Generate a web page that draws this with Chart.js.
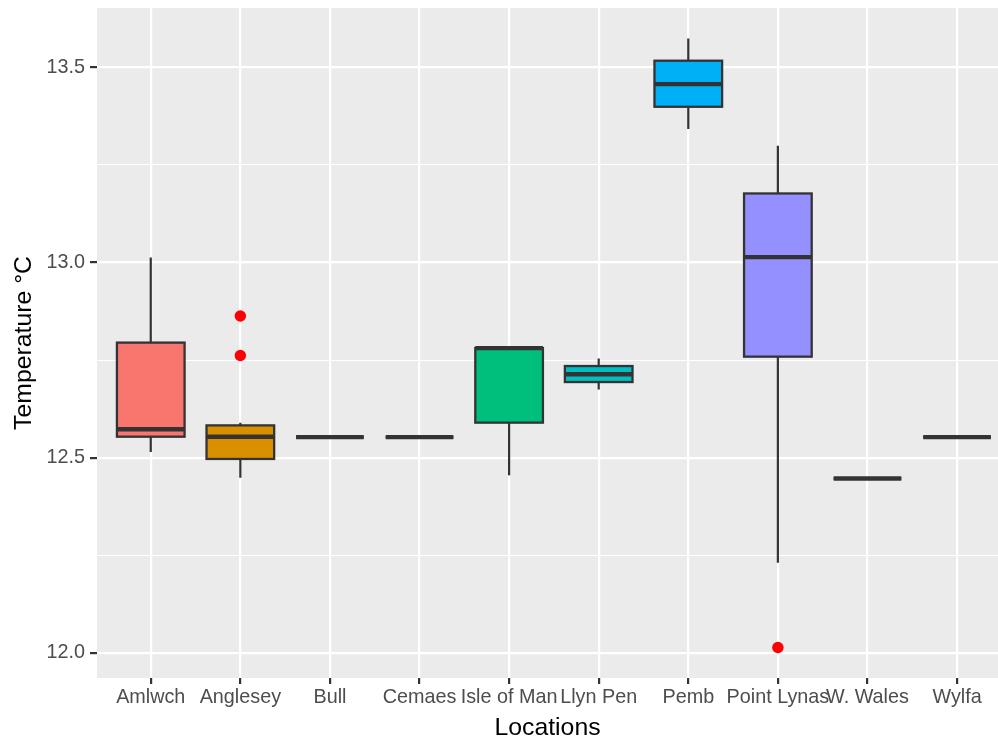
<!DOCTYPE html>
<html>
<head>
<meta charset="utf-8">
<script src="https://cdn.jsdelivr.net/npm/chart.js@4"></script>
<style>
  html, body { margin: 0; padding: 0; background: #ffffff; overflow: hidden; }
  #wrap { width: 998px; height: 742px; }
</style>
</head>
<body>
<div id="wrap"><canvas id="c" width="998" height="742"></canvas></div>
<script>
// Sea temperature summaries per location (°C)
const locations   = ['Amlwch', 'Anglesey', 'Bull', 'Cemaes', 'Isle of Man', 'Llyn Pen', 'Pemb', 'Point Lynas', 'W. Wales', 'Wylfa'];
const whiskerLow  = [12.515, 12.449, 12.553, 12.553, 12.455, 12.675, 13.342, 12.231, 12.447, 12.553];
const lowerQuart  = [12.554, 12.497, 12.553, 12.553, 12.590, 12.694, 13.399, 12.759, 12.447, 12.553];
const medians     = [12.573, 12.554, 12.553, 12.553, 12.781, 12.714, 13.457, 13.014, 12.447, 12.553];
const upperQuart  = [12.795, 12.583, 12.553, 12.553, 12.781, 12.735, 13.517, 13.177, 12.447, 12.553];
const whiskerHigh = [13.013, 12.590, 12.553, 12.553, 12.781, 12.754, 13.574, 13.299, 12.447, 12.553];

// Outlying readings: location index and value
const outlierLoc = [1, 1, 7];
const outlierVal = [12.863, 12.762, 12.014];

// Axis ticks
const yMajorTicks = [12.0, 12.5, 13.0, 13.5];
const yMinorTicks = [12.25, 12.75, 13.25];

const fills = ['#F8766D', '#D89000', '#A3A500', '#39B600', '#00BF7D', '#00BFC4', '#00B0F6', '#9590FF', '#E76BF3', '#FF62BC'];
const FONT = "'Liberation Sans', Arial, Helvetica, sans-serif";
const INK = '#333333';

const isMajor = v => yMajorTicks.some(t => Math.abs(t - v) < 1e-6);

// grey panel behind the grid
const panelBg = {
  id: 'panelBg',
  beforeDraw(chart) {
    const { ctx, chartArea: a } = chart;
    ctx.save();
    ctx.fillStyle = '#EBEBEB';
    ctx.fillRect(a.left, a.top, a.right - a.left, a.bottom - a.top);
    ctx.restore();
  }
};

// whiskers, box outlines and medians on top of the filled boxes
const boxParts = {
  id: 'boxParts',
  afterDatasetsDraw(chart) {
    const { ctx, scales: { x: xs, y: ys } } = chart;
    const meta = chart.getDatasetMeta(0);
    ctx.save();
    ctx.strokeStyle = INK;
    ctx.lineCap = 'butt';
    locations.forEach((_, i) => {
      const cx = xs.getPixelForValue(i);
      const half = meta.data[i].width / 2;
      const yQ1 = ys.getPixelForValue(lowerQuart[i]);
      const yQ3 = ys.getPixelForValue(upperQuart[i]);
      const yLo = ys.getPixelForValue(whiskerLow[i]);
      const yHi = ys.getPixelForValue(whiskerHigh[i]);
      const yMed = ys.getPixelForValue(medians[i]);
      // whiskers
      ctx.lineWidth = 2.2;
      ctx.beginPath();
      ctx.moveTo(cx, yQ3); ctx.lineTo(cx, yHi);
      ctx.moveTo(cx, yQ1); ctx.lineTo(cx, yLo);
      ctx.stroke();
      // box outline
      ctx.lineWidth = 2.3;
      ctx.lineJoin = 'miter';
      ctx.strokeRect(cx - half, yQ3, 2 * half, yQ1 - yQ3);
      // median
      ctx.lineWidth = 4.4;
      ctx.beginPath();
      ctx.moveTo(cx - half, yMed); ctx.lineTo(cx + half, yMed);
      ctx.stroke();
    });
    ctx.restore();
  }
};

new Chart(document.getElementById('c'), {
  type: 'bar',
  data: {
    datasets: [
      {
        type: 'bar',
        data: locations.map((_, i) => ({ x: i, y: [lowerQuart[i], upperQuart[i]] })),
        backgroundColor: fills,
        borderWidth: 0,
        barPercentage: 0.755,
        categoryPercentage: 1.0
      },
      {
        type: 'scatter',
        data: outlierLoc.map((loc, k) => ({ x: loc, y: outlierVal[k] })),
        backgroundColor: '#FF0000',
        borderWidth: 0,
        pointRadius: 5.7,
        pointHoverRadius: 5.7
      }
    ]
  },
  options: {
    responsive: false,
    animation: false,
    devicePixelRatio: 1,
    layout: { autoPadding: false, padding: { top: 8, left: 0, right: 0, bottom: 0 } },
    plugins: { legend: { display: false }, tooltip: { enabled: false } },
    events: [],
    scales: {
      x: {
        type: 'linear',
        offset: false,
        min: -0.6,
        max: 9.457,
        afterBuildTicks(s) { s.ticks = locations.map((_, i) => ({ value: i })); },
        afterFit(s) { s.height = 64; s.paddingLeft = 0; s.paddingRight = 0; },
        border: { display: false },
        grid: {
          offset: false,
          color: '#FFFFFF',
          lineWidth: 2.2,
          tickColor: INK,
          tickLength: 6,
          tickWidth: 2.2
        },
        ticks: {
          autoSkip: false,
          maxRotation: 0,
          minRotation: 0,
          padding: 2,
          color: '#4D4D4D',
          font: { family: FONT, size: 19.8 },
          callback: v => locations[v] ?? ''
        },
        title: {
          display: true,
          text: 'Locations',
          color: '#000000',
          font: { family: FONT, size: 24.8, lineHeight: 1.1 },
          padding: { top: 0, bottom: 0 }
        }
      },
      y: {
        type: 'linear',
        min: 11.936,
        max: 13.652,
        afterBuildTicks(s) {
          s.ticks = [...yMajorTicks, ...yMinorTicks].sort((a, b) => a - b).map(v => ({ value: v }));
        },
        afterFit(s) { s.width = 97; s.paddingTop = 0; s.paddingBottom = 0; },
        border: { display: false },
        grid: {
          color: '#FFFFFF',
          lineWidth: c => (c.tick && isMajor(c.tick.value)) ? 2.2 : 1.1,
          tickColor: c => (c.tick && isMajor(c.tick.value)) ? INK : 'rgba(0,0,0,0)',
          tickLength: 7,
          tickWidth: 2.2
        },
        ticks: {
          padding: 5,
          color: '#4D4D4D',
          font: { family: FONT, size: 19.8 },
          callback: v => isMajor(v) ? v.toFixed(1) : ''
        },
        title: {
          display: true,
          text: 'Temperature °C',
          color: '#000000',
          font: { family: FONT, size: 24.8, lineHeight: 1.1 },
          padding: { top: 10.5, bottom: 0 }
        }
      }
    }
  },
  plugins: [panelBg, boxParts]
});
</script>
</body>
</html>
